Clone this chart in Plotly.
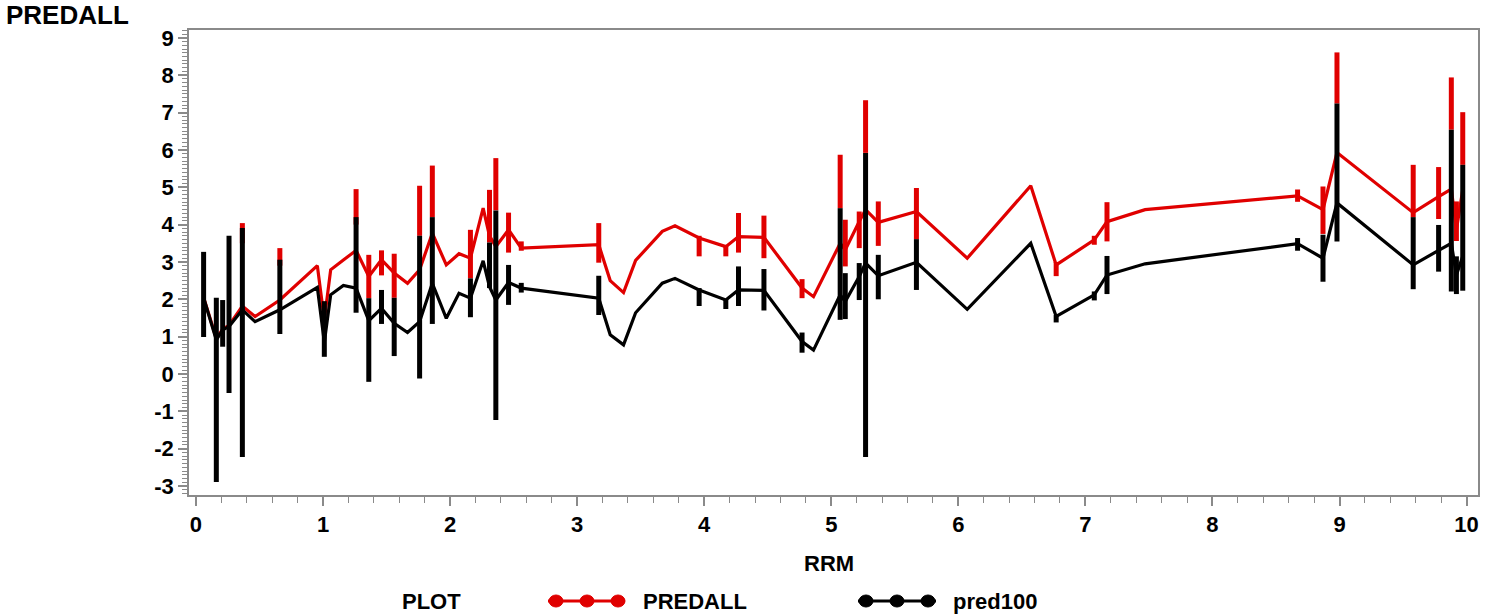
import plotly.graph_objects as go

# ---------------- data ----------------
rrm = [0.06, 0.16, 0.21, 0.26, 0.365, 0.465, 0.66, 0.955, 1.01, 1.06, 1.16, 1.26,
       1.36, 1.46, 1.56, 1.665, 1.76, 1.86, 1.97, 2.07, 2.16, 2.26, 2.31, 2.36,
       2.46, 2.56, 3.17, 3.26, 3.365, 3.46, 3.67, 3.77, 3.96, 4.17, 4.27, 4.47,
       4.77, 4.86, 5.07, 5.11, 5.22, 5.27, 5.37, 5.67, 6.07, 6.57, 6.77, 7.07,
       7.17, 7.47, 8.67, 8.87, 8.98, 9.58, 9.78, 9.88, 9.92, 9.97]

predall = [2.05, 0.95, 1.20, 1.30, 1.82, 1.54, 1.98, 2.90, 1.45, 2.79, 3.05, 3.31,
           2.61, 3.06, 2.70, 2.43, 2.79, 3.77, 2.92, 3.22, 3.10, 4.44, 3.70, 3.41,
           3.86, 3.37, 3.46, 2.50, 2.18, 3.04, 3.82, 3.97, 3.64, 3.41, 3.68, 3.66,
           2.30, 2.07, 3.50, 3.32, 4.08, 4.40, 4.06, 4.35, 3.10, 5.04, 2.92, 3.59,
           4.08, 4.40, 4.77, 4.40, 5.93, 4.32, 4.75, 4.95, 3.86, 4.93]

pred100 = [2.04, 0.91, 1.18, 1.27, 1.72, 1.40, 1.72, 2.32, 0.85, 2.12, 2.37, 2.30,
           1.43, 1.76, 1.36, 1.11, 1.40, 2.43, 1.49, 2.16, 2.03, 3.03, 2.34, 1.98,
           2.45, 2.30, 2.03, 1.05, 0.78, 1.64, 2.43, 2.56, 2.25, 1.98, 2.25, 2.24,
           0.87, 0.64, 2.12, 1.94, 2.61, 2.97, 2.63, 2.99, 1.73, 3.50, 1.54, 2.12,
           2.65, 2.95, 3.49, 3.10, 4.58, 2.92, 3.31, 3.50, 2.65, 3.15]

N = None
predall_hi = [N, N, N, N, 4.04, N, 3.37, N, N, N, N, 4.95,
              3.19, 3.31, 3.22, N, 5.04, 5.58, N, N, 3.86, N, 4.93, 5.78,
              4.32, 3.55, 4.04, N, N, N, N, N, 3.70, 3.45, 4.31, 4.24,
              2.54, N, 5.87, 4.13, 4.35, 7.33, 4.62, 4.98, N, N, 3.00, 3.70,
              4.60, N, 4.94, 5.02, 8.61, 5.60, 5.54, 7.94, 4.62, 7.01]
predall_lo = [N, N, N, N, 3.50, N, 2.90, N, N, N, N, 4.00,
              2.03, 2.64, 2.04, N, 3.70, 4.20, N, N, 2.56, N, 3.52, 4.38,
              3.25, 3.30, 2.98, N, N, N, N, N, 3.15, 3.15, 3.25, 3.10,
              2.03, N, 4.44, 2.88, 3.37, 5.92, 3.43, 3.61, N, N, 2.62, 3.46,
              3.55, N, 4.61, 3.75, 7.24, 4.20, 4.15, 6.54, 3.56, 5.60]

pred100_hi = [3.27, 2.04, 1.98, 3.70, 3.91, N, 3.06, N, 1.95, N, N, 4.20,
              2.03, 2.25, 2.04, N, 3.70, 4.20, N, N, 2.56, N, 3.52, 4.38,
              2.92, 2.44, 2.63, N, N, N, N, N, 2.30, 2.00, 2.88, 2.81,
              1.11, N, 4.44, 2.70, 2.97, 5.92, 3.19, 3.61, N, N, 1.58, 2.21,
              3.16, N, 3.64, 3.73, 7.24, 4.20, 3.99, 6.54, 3.15, 5.60]
pred100_lo = [0.99, -2.89, 0.73, -0.51, -2.22, N, 1.07, N, 0.46, N, N, 1.64,
              -0.21, 1.34, 0.48, N, -0.12, 1.34, N, N, 1.52, N, 2.30, -1.23,
              1.85, 2.18, 1.58, N, N, N, N, N, 1.82, 1.74, 1.82, 1.70,
              0.57, N, 1.45, 1.47, 1.98, -2.22, 2.00, 2.25, N, N, 1.38, 1.97,
              2.14, N, 3.30, 2.47, 3.55, 2.27, 2.74, 2.21, 2.14, 2.23]

x_ticks = list(range(0, 11))
x_ticktext = [str(v) for v in x_ticks]
y_ticks = list(range(-3, 10))
y_ticktext = [str(v) for v in y_ticks]   # plain hyphen-minus as in the reference

RED = "#E00000"
BLACK = "#000000"
AXIS = "#8a8a8a"
FONT = "Liberation Sans, Arial, sans-serif"


def bar_xy(xs, lo, hi):
    bx, by = [], []
    for x, l, h in zip(xs, lo, hi):
        if l is None or h is None:
            continue
        bx += [x, x, None]
        by += [l, h, None]
    return bx, by


fig = go.Figure()
fig.add_trace(go.Scatter(x=rrm, y=predall, mode="lines", name="PREDALL",
                         line=dict(color=RED, width=3.2), showlegend=False))
rbx, rby = bar_xy(rrm, predall_lo, predall_hi)
fig.add_trace(go.Scatter(x=rbx, y=rby, mode="lines", line=dict(color=RED, width=5),
                         showlegend=False, connectgaps=False))
fig.add_trace(go.Scatter(x=rrm, y=pred100, mode="lines", name="pred100",
                         line=dict(color=BLACK, width=3.2), showlegend=False))
bbx, bby = bar_xy(rrm, pred100_lo, pred100_hi)
fig.add_trace(go.Scatter(x=bbx, y=bby, mode="lines", line=dict(color=BLACK, width=5),
                         showlegend=False, connectgaps=False))

# ---------------- layout ----------------
L, R, T, B = 189, 1478, 30, 495
W, H = 1491, 615


def fx(px):
    return (px - L) / (R - L)


def fy(py):
    return (B - py) / (B - T)


tickfont = dict(family=FONT, size=22, color="black", weight="bold")
axis_common = dict(showline=True, mirror=True, linecolor=AXIS, linewidth=1.5,
                   ticks="outside", ticklen=9, tickwidth=1.5, tickcolor=AXIS,
                   showgrid=False, zeroline=False, tickfont=tickfont)

fig.update_layout(
    width=W, height=H,
    margin=dict(l=L, r=W - R, t=T, b=H - B),
    plot_bgcolor="white", paper_bgcolor="white",
    xaxis=dict(range=[-0.055, 10.09], tickvals=x_ticks, ticktext=x_ticktext,
               minor=dict(dtick=0.2, ticks="outside", ticklen=6, tickcolor=AXIS, tickwidth=1),
               **axis_common),
    yaxis=dict(range=[-3.24, 9.21], tickvals=y_ticks, ticktext=y_ticktext,
               minor=dict(dtick=0.1, ticks="outside", ticklen=5, tickcolor=AXIS, tickwidth=1),
               **axis_common),
    showlegend=False,
)

lab = dict(family=FONT, size=22, color="black", weight="bold")
ann = [
    dict(text="PREDALL", xref="paper", yref="paper", x=fx(4), y=fy(15),
         xanchor="left", yanchor="middle", showarrow=False,
         font=dict(family=FONT, size=26, color="black", weight="bold")),
    dict(text="RRM", xref="paper", yref="paper", x=fx(829), y=fy(563),
         xanchor="center", yanchor="middle", showarrow=False, font=lab),
    dict(text="PLOT", xref="paper", yref="paper", x=fx(400), y=fy(601),
         xanchor="left", yanchor="middle", showarrow=False, font=lab),
    dict(text="PREDALL", xref="paper", yref="paper", x=fx(641), y=fy(601),
         xanchor="left", yanchor="middle", showarrow=False, font=lab),
    dict(text="pred100", xref="paper", yref="paper", x=fx(951), y=fy(601),
         xanchor="left", yanchor="middle", showarrow=False, font=lab),
]

shapes = []
for (x0, x1, centers, col) in [(548, 625, [556, 587, 618], RED),
                               (858, 936, [866, 897, 928], BLACK)]:
    shapes.append(dict(type="line", xref="paper", yref="paper",
                       x0=fx(x0), x1=fx(x1), y0=fy(601), y1=fy(601),
                       line=dict(color=col, width=3)))
    for c in centers:
        shapes.append(dict(type="circle", xref="paper", yref="paper",
                           x0=fx(c - 7), x1=fx(c + 7), y0=fy(601 + 6), y1=fy(601 - 6),
                           fillcolor=col, line=dict(color=col, width=1)))

fig.update_layout(annotations=ann, shapes=shapes)

fig.write_html("out.html")
